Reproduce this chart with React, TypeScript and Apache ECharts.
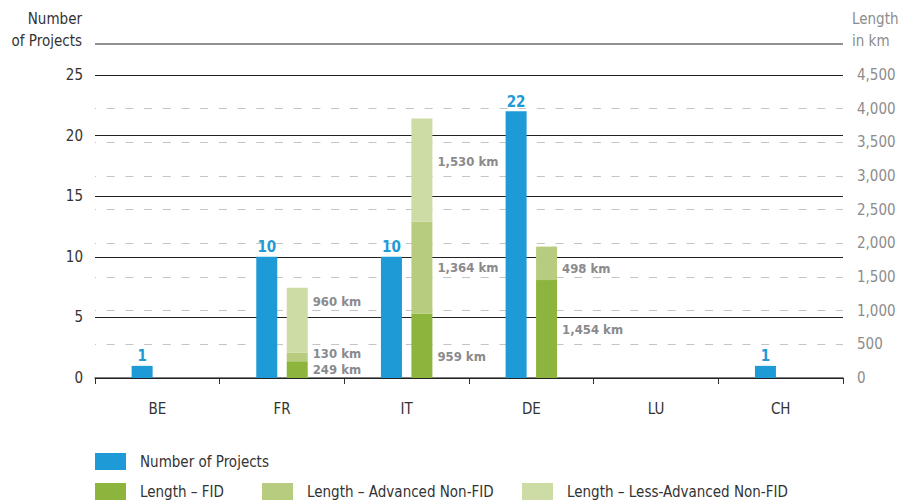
import React, { useEffect, useRef } from "react";
import * as echarts from "echarts";

const categories = ["BE", "FR", "IT", "DE", "LU", "CH"];
const projects = [1, 10, 10, 22, null, 1];
const lengthFid = [null, 249, 959, 1454, null, null];
const lengthAdvanced = [null, 130, 1364, 498, null, null];
const lengthLessAdvanced = [null, 960, 1530, null, null, null];

const leftMax = 25;
const leftInterval = 5;
const rightMax = 4500;
const rightInterval = 500;

// small vertical nudges for the km labels (px)
const fidLabelDy = [0, 0, 11, 0, 0, 0];
const advLabelDy = [0, -3, 0, 5, 0, 0];
const lessLabelDy = [0, -19, -9, 0, 0, 0];

const names = {
  projects: "Number of Projects",
  fid: "Length – FID",
  adv: "Length – Advanced Non-FID",
  less: "Length – Less-Advanced Non-FID",
};

const BLUE = "#1e9ad6";
const FID = "#8db53e";
const ADV = "#b8cc80";
const LESS = "#cddba4";
const FONT = '"Liberation Sans Narrow", "DejaVu Sans Condensed", "Roboto", sans-serif';

const fmt = (v: number) => v.toLocaleString("en-US");

function kmData(values: (number | null)[], dy: number[]) {
  return values.map((v, i) =>
    v == null ? null : { value: v, label: { offset: [0, dy[i]] } }
  );
}

export default function App() {
  const ref = useRef<HTMLDivElement>(null);
  useEffect(() => {
    if (!ref.current) return;
    const chart = echarts.init(ref.current, null, { renderer: "svg" });
    const kmLabel = {
      show: true,
      position: "right",
      distance: 5,
      color: "#8a8a8e",
      fontWeight: "bold",
      fontSize: 13,
      fontFamily: FONT,
      formatter: (p: any) => fmt(p.value) + " km",
    };
    const legendBase = {
      icon: "rect",
      itemWidth: 31,
      itemHeight: 17,
      padding: 0,
      orient: "horizontal",
      selectedMode: false,
      textStyle: { color: "#333", fontSize: 15, fontFamily: FONT, padding: [0, 0, 0, 9] },
    };
    chart.setOption({
      animation: false,
      backgroundColor: "#fff",
      textStyle: { fontFamily: FONT },
      grid: { left: 95, right: 56, top: 75, bottom: 124, outerBoundsMode: "none", containLabel: false },
      legend: [
        { ...legendBase, data: [names.projects], left: 95, top: 453 },
        { ...legendBase, data: [names.fid], left: 95, top: 483 },
        { ...legendBase, data: [names.adv], left: 262, top: 483 },
        { ...legendBase, data: [names.less], left: 522, top: 483 },
      ],
      xAxis: {
        type: "category",
        data: categories,
        boundaryGap: true,
        axisLine: { lineStyle: { color: "#555", width: 1.5 } },
        axisTick: { show: true, length: 6, interval: 0, lineStyle: { color: "#333" } },
        axisLabel: { color: "#333", fontSize: 15, margin: 23, fontFamily: FONT },
      },
      yAxis: [
        {
          type: "value",
          min: 0,
          max: leftMax,
          interval: leftInterval,
          name: "Number\nof Projects",
          nameLocation: "end",
          nameGap: 23,
          nameTextStyle: {
            color: "#333",
            fontSize: 15,
            lineHeight: 22,
            align: "right",
            verticalAlign: "bottom",
            padding: [0, 13, 0, 0],
            fontFamily: FONT,
          },
          axisLine: { show: false },
          axisTick: { show: false },
          axisLabel: { color: "#333", fontSize: 15, margin: 12, fontFamily: FONT },
          splitLine: { show: true, lineStyle: { color: "#222", width: 1 } },
          z: 3,
        },
        {
          type: "value",
          min: 0,
          max: rightMax,
          interval: rightInterval,
          position: "right",
          name: "Length\nin km",
          nameLocation: "end",
          nameGap: 23,
          nameTextStyle: {
            color: "#8c8c8c",
            fontSize: 15,
            lineHeight: 22,
            align: "left",
            verticalAlign: "bottom",
            padding: [0, 0, 0, 9],
            fontFamily: FONT,
          },
          axisLine: { show: false },
          axisTick: { show: false },
          axisLabel: {
            color: "#8c8c8c",
            fontSize: 15,
            margin: 14,
            fontFamily: FONT,
            formatter: (v: number) => fmt(v),
          },
          splitLine: {
            show: true,
            lineStyle: { color: "#c4c4c4", width: 1.2, type: [8, 10.7], dashOffset: 6.7 },
          },
        },
      ],
      graphic: [
        {
          type: "line",
          shape: { x1: 95, y1: 44, x2: 843, y2: 44 },
          style: { stroke: "#222", lineWidth: 1 },
        },
      ],
      series: [
        {
          name: names.projects,
          type: "bar",
          yAxisIndex: 0,
          data: projects,
          barWidth: 21,
          barGap: "45%",
          itemStyle: { color: BLUE },
          label: {
            show: true,
            position: "top",
            distance: 2,
            color: BLUE,
            fontWeight: "bold",
            fontSize: 15,
            fontFamily: FONT,
          },
          z: 4,
        },
        {
          name: names.fid,
          type: "bar",
          yAxisIndex: 1,
          stack: "length",
          data: kmData(lengthFid, fidLabelDy),
          barWidth: 21,
          itemStyle: { color: FID },
          label: kmLabel,
          z: 4,
        },
        {
          name: names.adv,
          type: "bar",
          yAxisIndex: 1,
          stack: "length",
          data: kmData(lengthAdvanced, advLabelDy),
          barWidth: 21,
          itemStyle: { color: ADV },
          label: kmLabel,
          z: 4,
        },
        {
          name: names.less,
          type: "bar",
          yAxisIndex: 1,
          stack: "length",
          data: kmData(lengthLessAdvanced, lessLabelDy),
          barWidth: 21,
          itemStyle: { color: LESS },
          label: kmLabel,
          z: 4,
        },
      ],
    });
    return () => chart.dispose();
  }, []);
  return (
    <div
      ref={ref}
      style={{ position: "fixed", left: 0, top: 0, width: 899, height: 502, background: "#fff" }}
    />
  );
}
